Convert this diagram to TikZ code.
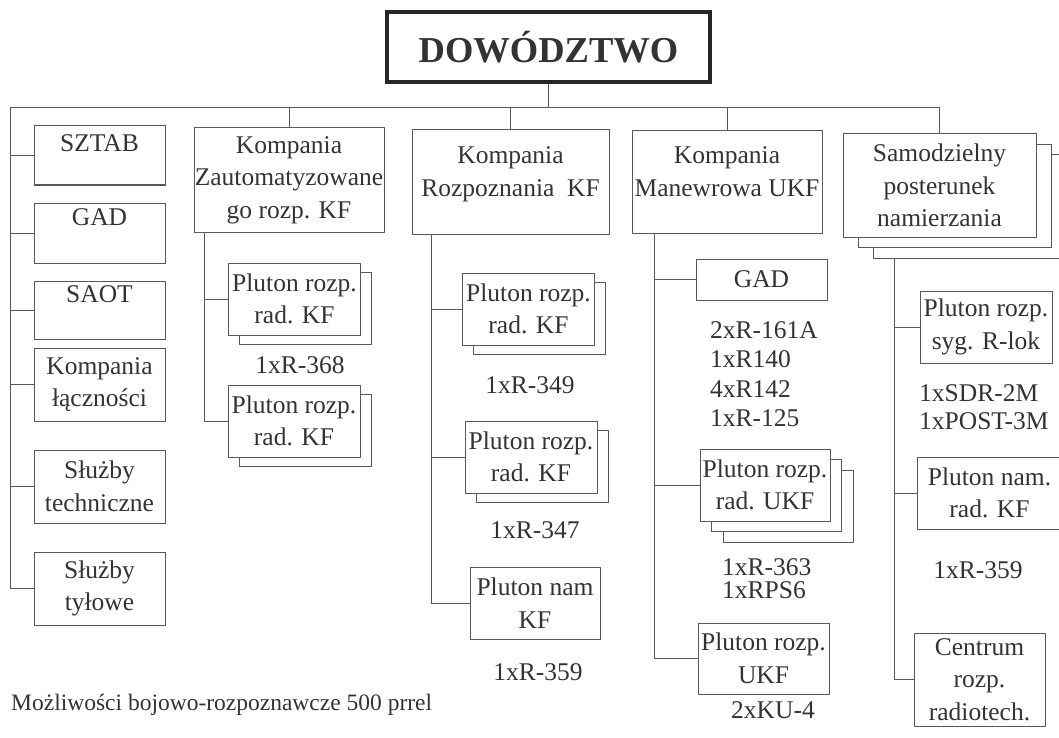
\documentclass[tikz,border=0pt]{standalone}
\usepackage{fontspec}
\setmainfont{Liberation Serif}
\usetikzlibrary{
	positioning,
	shadows,
}
\tikzset{
	link/.style={draw=black!65, line width=1pt},
	box/.style={
		draw=black!65,
		fill=white,
		rectangle,
		line width=1pt,
		inner sep=0pt,
		align=center,
		text=black!80,
		font=\fontsize{25.5}{32.5}\selectfont,
	},
	head box/.style={
		box,
		draw=black!85,
		line width=3.5pt,
		minimum width=323pt,
		minimum height=70pt,
		font=\fontsize{36.5}{40}\selectfont\bfseries,
	},
	staff/.style={
		box,
		minimum width=131pt,
		minimum height=73pt,
	},
	pluton/.style={
		box,
		minimum width=132pt,
		minimum height=72pt,
		copy shadow={shadow xshift=11pt, shadow yshift=-9.5pt},
	},
	pluton2/.style={
		box,
		minimum width=130pt,
		minimum height=72pt,
		copy shadow={shadow xshift=23pt, shadow yshift=-21pt},
		copy shadow={shadow xshift=11.5pt, shadow yshift=-10.5pt},
	},
	note/.style={
		inner sep=0pt,
		align=left,
		text=black!80,
		font=\fontsize{25.5}{29.5}\selectfont,
	},
}

\begin{document}
\begin{tikzpicture}[x=1pt,y=-1pt]
\useasboundingbox (0,0) rectangle (1059,738);

\node[head box] (dow) at (548.5,47) {DOWÓDZTWO};

\node[staff, minimum height=59pt] (sztab) at (99.5,155.5) {SZTAB\\[-7pt]~};
\node[staff, minimum height=60pt] (gad) at (99.5,233) {GAD\\~};
\node[staff, minimum height=58pt] (saot) at (99.5,310) {SAOT\\~};
\node[staff] (lacz) at (99.5,384.5) {Kompania\\łączności};
\node[staff] (tech) at (99.5,486.5) {Służby\\techniczne};
\node[staff] (tyl) at (99.5,588.5) {Służby\\tyłowe};

\node[box, minimum width=190pt, minimum height=104pt] (kza) at (289,180) {Kompania\\Zautomatyzowane\\go rozp. KF};
\node[box, minimum width=197pt, minimum height=104pt] (kro) at (510.5,182) {Kompania\\Rozpoznania~ KF\\[-12pt]~};
\node[box, minimum width=190pt, minimum height=102pt] (kma) at (727,182) {Kompania\\Manewrowa UKF\\[-12pt]~};
\node[box, minimum width=193pt, minimum height=103pt,
	copy shadow={shadow xshift=30pt, shadow yshift=-21pt},
	copy shadow={shadow xshift=15pt, shadow yshift=-10.5pt}] (sam) at (939.5,185.5) {Samodzielny\\posterunek\\namierzania};

\node[pluton] (kzp1) at (294.5,299) {Pluton rozp.\\rad. KF};
\node[note] (kzr1) at (300,365) {1xR-368};
\node[pluton] (kzp2) at (294,421) {Pluton rozp.\\rad. KF};

\node[pluton] (krp1) at (528.5,309) {Pluton rozp.\\rad. KF};
\node[note] (krr1) at (530,385) {1xR-349};
\node[pluton] (krp2) at (531,457) {Pluton rozp.\\rad. KF};
\node[note] (krr2) at (535,530) {1xR-347};
\node[box, minimum width=130pt, minimum height=72pt] (krn) at (535,603) {Pluton nam\\KF};
\node[note] (krr3) at (538,672) {1xR-359};

\node[box, minimum width=131pt, minimum height=41pt] (kmg) at (761.5,279.5) {GAD};
\node[note, anchor=west] (kmr1) at (710,374) {2xR-161A\\1xR140\\4xR142\\1xR-125};
\node[pluton2] (kmp) at (765,485) {Pluton rozp.\\rad. UKF};
\node[note, anchor=west, font=\fontsize{25.5}{23.5}\selectfont] (kmr2) at (722,578.5) {1xR-363\\1xRPS6};
\node[box, minimum width=131pt, minimum height=71pt] (kmu) at (763.5,658.5) {Pluton rozp.\\UKF};
\node[note] (kmr3) at (773,710) {2xKU-4};

\node[box, minimum width=132pt, minimum height=72pt] (samr) at (986,327) {Pluton rozp.\\syg. R-lok};
\node[note, anchor=west, font=\fontsize{25.5}{28}\selectfont] (samr1) at (919,407) {1xSDR-2M\\1xPOST-3M};
\node[box, minimum width=145pt, minimum height=72pt] (samn) at (989.5,493) {Pluton nam.\\rad. KF};
\node[note] (samr2) at (978,570) {1xR-359};
\node[box, minimum width=131pt, minimum height=93pt] (samc) at (979.5,679.5) {Centrum\\rozp.\\radiotech.};

\node[note, anchor=west, font=\fontsize{23.5}{28}\selectfont] (cap) at (11,705) {Możliwości bojowo-rozpoznawcze 500 prrel};

\coordinate (busL) at (10,108);
\draw[link] (dow.south) -- (dow.south |- busL);
\draw[link] (busL) -- (sam.north |- busL);
\foreach \n in {kza,kro,kma,sam}{
	\draw[link] (\n.north) -- (\n.north |- busL);
}

\draw[link] (busL) |- (tyl.west);
\foreach \n in {sztab,gad,saot,lacz,tech}{
	\draw[link] (busL |- \n.west) -- (\n.west);
}

\coordinate (kzaS) at ([xshift=11pt]kza.south west);
\coordinate (kroS) at ([xshift=20pt]kro.south west);
\coordinate (kmaS) at ([xshift=23pt]kma.south west);
\coordinate (samS) at ([xshift=52pt,yshift=-21pt]sam.south west);

\foreach \s/\u/\v in {
	kzaS/kzp1/kzp2%
	,kroS/krp1/krn%
	,kroS/krp2/krn%
	,kmaS/kmg/kmu%
	,kmaS/kmp/kmu%
	,samS/samr/samc%
	,samS/samn/samc%
}{
	\draw[link] (\s) |- (\v.west);
	\draw[link] (\s |- \u.west) -- (\u.west);
}

\end{tikzpicture}
\end{document}
